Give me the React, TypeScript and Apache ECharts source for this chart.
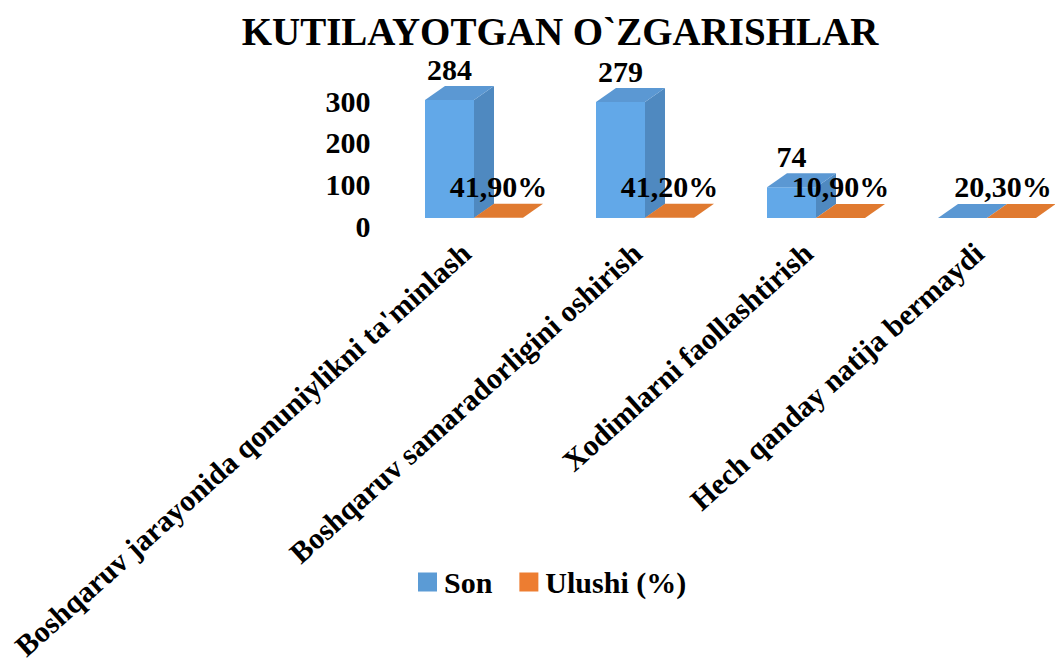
import React, { useEffect, useRef } from "react";
import * as echarts from "echarts";

const titleText = "KUTILAYOTGAN O`ZGARISHLAR";
const categories = [
  "Boshqaruv jarayonida qonuniylikni ta'minlash",
  "Boshqaruv samaradorligini oshirish",
  "Xodimlarni faollashtirish",
  "Hech qanday natija bermaydi",
];
const sonValues = [284, 279, 74, 0];
const ulushiValues = [0.419, 0.412, 0.109, 0.203];
const seriesNames = ["Son", "Ulushi (%)"];
const yTicks = { min: 0, max: 300, interval: 100 };

const FONT = "Liberation Serif";

const palettes = [
  { front: "#62A8E8", side: "#4F89C0", top: "#5B98D3", legend: "#5B9BD5" },
  { front: "#E07A30", side: "#C4672A", top: "#E07A30", legend: "#ED7D31" },
];

function makeRender(seriesIndex: number, fmt: (v: number) => string, hideZero: boolean) {
  return (params: any, api: any) => {
    const idx = api.value(0);
    const val = api.value(1);
    const base = api.coord([idx, 0]);
    const top = api.coord([idx, val]);
    const band = api.size([1, 0])[0];
    const w = (band * 49) / 171;
    const dx = (band * 20) / 171;
    const dy = 14;
    const x0 = seriesIndex === 0 ? base[0] - w : base[0];
    const yTop = top[1];
    const yBase = base[1];
    const pal = palettes[seriesIndex];
    const children: any[] = [];
    const h = yBase - yTop;
    if (h > 0.5) {
      children.push({
        type: "rect",
        shape: { x: x0, y: yTop, width: w, height: h },
        style: { fill: pal.front },
      });
      children.push({
        type: "polygon",
        shape: {
          points: [
            [x0 + w, yTop],
            [x0 + w + dx, yTop - dy],
            [x0 + w + dx, yBase - dy],
            [x0 + w, yBase],
          ],
        },
        style: { fill: pal.side },
      });
    }
    children.push({
      type: "polygon",
      shape: {
        points: [
          [x0, yTop],
          [x0 + dx, yTop - dy],
          [x0 + w + dx, yTop - dy],
          [x0 + w, yTop],
        ],
      },
      style: { fill: pal.top },
    });
    if (!(hideZero && val === 0)) {
      const cx = Math.min(x0 + w / 2, api.getWidth() - 52);
      children.push({
        type: "text",
        z2: 10,
        style: {
          x: cx,
          y: yTop - 31,
          text: fmt(val),
          fill: "#000",
          font: 'bold 30px "Liberation Serif"',
          align: "center",
          verticalAlign: "middle",
        },
      });
    }
    return { type: "group", children };
  };
}

export default function App() {
  const ref = useRef<HTMLDivElement>(null);
  useEffect(() => {
    if (!ref.current) return;
    const chart = echarts.init(ref.current, null, { renderer: "svg" });
    const option: any = {
      animation: false,
      backgroundColor: "#ffffff",
      title: {
        text: titleText,
        left: 555,
        top: 7,
        textAlign: "center",
        textStyle: { fontFamily: FONT, fontWeight: "bold", fontSize: 39, color: "#000" },
      },
      legend: {
        left: 413,
        top: 562,
        itemWidth: 19,
        itemHeight: 19,
        itemGap: 27,
        icon: "rect",
        data: seriesNames.map((n, i) => ({ name: n, itemStyle: { color: palettes[i].legend } })),
        textStyle: { fontFamily: FONT, fontWeight: "bold", fontSize: 30, color: "#000", padding: [0, 0, 0, 2] },
      },
      grid: {
        left: 388.5,
        top: 93.4,
        width: 684,
        height: 124.6,
        containLabel: false,
        outerBoundsMode: "none",
      },
      xAxis: {
        type: "category",
        data: categories,
        axisLine: { show: false },
        axisTick: { show: false },
        axisLabel: {
          interval: 0,
          rotate: 42,
          margin: 23,
          padding: [0, 11, 0, 0],
          fontFamily: FONT,
          fontWeight: "bold",
          fontSize: 30,
          color: "#000",
        },
      },
      yAxis: {
        type: "value",
        min: yTicks.min,
        max: yTicks.max,
        interval: yTicks.interval,
        axisLine: { show: false },
        axisTick: { show: false },
        splitLine: { show: false },
        axisLabel: {
          margin: 18,
          formatter: (v: number) => `{y|${v}}`,
          rich: {
            y: {
              fontFamily: FONT,
              fontWeight: "bold",
              fontSize: 30,
              color: "#000",
              padding: [16, 0, 0, 0],
            },
          },
          fontFamily: FONT,
          fontWeight: "bold",
          fontSize: 30,
          color: "#000",
        },
      },
      series: [
        {
          name: seriesNames[0],
          type: "custom",
          color: palettes[0].legend,
          renderItem: makeRender(0, (v) => String(v), true),
          encode: { x: 0, y: 1 },
          data: sonValues.map((v, i) => [i, v]),
        },
        {
          name: seriesNames[1],
          type: "custom",
          color: palettes[1].legend,
          renderItem: makeRender(
            1,
            (v) => (v * 100).toFixed(2).replace(".", ",") + "%",
            false
          ),
          encode: { x: 0, y: 1 },
          data: ulushiValues.map((v, i) => [i, v]),
        },
      ],
    };
    chart.setOption(option);
    return () => chart.dispose();
  }, []);
  return (
    <div
      ref={ref}
      style={{ position: "absolute", left: 0, top: 0, width: 1055, height: 658, background: "#fff" }}
    />
  );
}
